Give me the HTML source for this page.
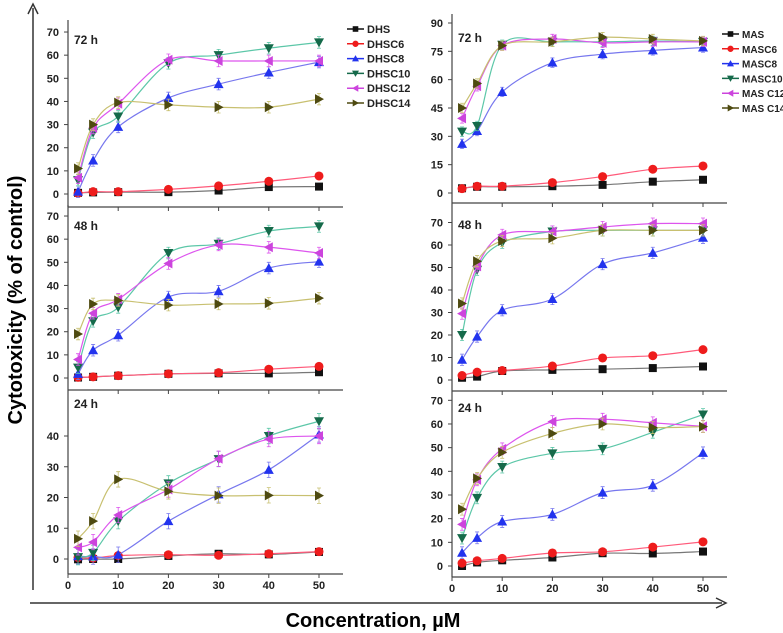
<!DOCTYPE html>
<html><head><meta charset="utf-8"><style>
body{margin:0;background:#fff;}
svg{display:block;font-family:"Liberation Sans",Arial,sans-serif;}
</style></head><body>
<svg id="chart" width="783" height="633" viewBox="0 0 783 633" xmlns="http://www.w3.org/2000/svg">
<g>
<line x1="33" y1="590" x2="33" y2="8" stroke="#333" stroke-width="1.5"/>
<path d="M28,14 L33,4 L38,14" fill="none" stroke="#333" stroke-width="1.5"/>
<line x1="30" y1="603" x2="722" y2="603" stroke="#333" stroke-width="1.5"/>
<path d="M716,598 L726,603 L716,608" fill="none" stroke="#333" stroke-width="1.5"/>
<text transform="translate(22,300) rotate(-90)" text-anchor="middle" font-size="20" font-weight="bold">Cytotoxicity (% of control)</text>
<text x="373" y="627" text-anchor="middle" font-size="20" font-weight="bold">Concentration, µM</text>
</g>
<g id="panels"></g>
</svg>
<script>
const xVals=[2,5,10,20,30,40,50];
const leftNames=["DHS","DHSC6","DHSC8","DHSC10","DHSC12","DHSC14"];
const rightNames=["MAS","MASC6","MASC8","MASC10","MAS C12","MAS C14"];
const L72=[[0.5,0.7,0.8,0.8,1.5,3,3.2],[0.3,1,1,2,3.5,5.5,7.8],[1,14.5,29,41.5,47.5,52.5,57],[6,26.5,33.5,56.5,60,63,65.5],[7,28.5,39,58,57.5,57.5,57.5],[11,30,39.5,38.5,37.5,37.5,41]];
const L48=[[0.2,0.5,1,1.8,2,2,2.5],[0.3,0.5,1,1.8,2.3,3.8,5],[1.8,12,18.5,35,37.5,47.5,50.3],[4.5,24.5,30.5,54,58,63.5,65.5],[8,28,34,49.5,57.5,56.5,54],[19,32,33.5,31.5,32,32.3,34.5]];
const L24=[[-0.1,0,0,1,1.7,1.5,2.3],[0.5,0.3,1.1,1.4,1.2,1.7,2.4],[0.9,0.8,1.4,12.3,21,29,40.5],[0.6,2,12.3,24.6,32.5,40,44.8],[3.8,5.5,14.3,22.6,32.6,39,40],[6.6,12.3,25.9,22,20.6,20.7,20.6]];
const R72=[[2.5,3.3,3.3,3.6,4.3,6,7],[2.3,3.6,3.6,5.5,8.7,12.6,14.3],[26,32.8,53.5,69,73.5,75.5,77],[32.5,35.5,78.5,80,80,80.5,80],[39.5,56.5,78,81.5,79.5,80,80],[45,58,78,80,82.5,81.5,80.5]];
const R48=[[1,1.5,4,4.5,4.8,5.3,6],[2,3.5,4.2,6.2,9.8,10.8,13.5],[9,19.3,31,36,51.5,56.5,63.2],[20,49,61,66,66.5,66.5,66.5],[29.5,50.5,64.5,66,68,69.5,69.5],[34,52.8,61.8,63,66.5,66.5,66.5]];
const R24=[[0,1.5,2.4,3.6,5.4,5.3,6.1],[1.2,2.2,3.2,5.5,6,8,10.2],[5.6,11.9,18.8,21.8,31,34.1,47.8],[11.8,28.8,41.8,47.6,49.5,56.5,64],[17.6,36.4,49.5,61,62,60.5,59],[24,37,48,56,60,58.5,58.9]];
const leftTicks72=[0,10,20,30,40,50,60,70], leftTicks48=[0,10,20,30,40,50,60,70], leftTicks24=[0,10,20,30,40];
const rightTicks72=[0,15,30,45,60,75,90], rightTicks48=[0,10,20,30,40,50,60,70], rightTicks24=[0,10,20,30,40,50,60,70];
const xTicks=[0,10,20,30,40,50];
const markColors=["#111","#ee1c1c","#2233ee","#156a4a","#cc44dd","#4e4a10"];
const lineColors=["#777","#ff5a7a","#7777ee","#5cc7a8","#dd55ee","#c8c070"];
const shapes=["sq","ci","tu","td","tl","tr"];
const NS="http://www.w3.org/2000/svg";
const root=document.getElementById("panels");
function mk(tag,attrs,parent){const e=document.createElementNS(NS,tag);for(const k in attrs)e.setAttribute(k,attrs[k]);parent.appendChild(e);return e;}
function panel(name,x0,top,bottom,y0,pxPer,data,yticks,label,labelY,showX){
  const g=mk("g",{},root);
  
  
  const sx=v=>x0+v*5.02, sy=v=>y0-v*pxPer;
  mk("line",{x1:x0,y1:top,x2:x0,y2:bottom,stroke:"#444","stroke-width":1.2},g);
  mk("line",{x1:x0,y1:bottom,x2:x0+275,y2:bottom,stroke:"#444","stroke-width":1.2},g);
  yticks.forEach(t=>{const y=sy(t);
    mk("line",{x1:x0-4,y1:y,x2:x0,y2:y,stroke:"#444"},g);
    const tx=mk("text",{x:x0-9,y:y+4,"text-anchor":"end","font-size":11,"font-weight":"bold",fill:"#222"},g);tx.textContent=t;
    
    });
  xTicks.forEach(t=>{const x=sx(t);
    mk("line",{x1:x,y1:bottom,x2:x,y2:bottom+4,stroke:"#444"},g);
    if(showX){const tx=mk("text",{x:x,y:bottom+15,"text-anchor":"middle","font-size":11,"font-weight":"bold",fill:"#222"},g);tx.textContent=t;
      
      }});
  const lt=mk("text",{x:x0+6,y:labelY,"font-size":12,"font-weight":"bold",fill:"#222"},g);lt.textContent=label;
  
  
  data.forEach((ser,si)=>{
    const pts=ser.map((v,i)=>[sx(xVals[i]),sy(v)]);
    let d="M"+pts[0][0]+","+pts[0][1];
    for(let i=0;i<pts.length-1;i++){const p0=pts[Math.max(i-1,0)],p1=pts[i],p2=pts[i+1],p3=pts[Math.min(i+2,pts.length-1)];
      d+=` C${p1[0]+(p2[0]-p0[0])/6},${p1[1]+(p2[1]-p0[1])/6} ${p2[0]-(p3[0]-p1[0])/6},${p2[1]-(p3[1]-p1[1])/6} ${p2[0]},${p2[1]}`;}
    const path=mk("path",{d:d,fill:"none",stroke:lineColors[si],"stroke-width":1.2},g);
    
    
    pts.forEach(p=>{
      if(si>=2){const e=pxPer*2.5;mk("path",{d:`M${p[0]},${p[1]-e}V${p[1]+e}M${p[0]-2},${p[1]-e}h4M${p[0]-2},${p[1]+e}h4`,stroke:lineColors[si],"stroke-width":0.8,fill:"none"},g);}
      const m=marker(shapes[si],p[0],p[1],markColors[si],g);
      
      
    });
  });
}
function marker(s,x,y,c,g){const r=5;let d;
  if(s==="sq")return mk("rect",{x:x-4,y:y-4,width:8,height:8,fill:c},g);
  if(s==="ci")return mk("circle",{cx:x,cy:y,r:4.5,fill:c},g);
  if(s==="tu")d=`M${x},${y-r}L${x+r},${y+r*0.8}L${x-r},${y+r*0.8}Z`;
  if(s==="td")d=`M${x},${y+r}L${x+r},${y-r*0.8}L${x-r},${y-r*0.8}Z`;
  if(s==="tl")d=`M${x-r},${y}L${x+r*0.8},${y-r}L${x+r*0.8},${y+r}Z`;
  if(s==="tr")d=`M${x+r},${y}L${x-r*0.8},${y-r}L${x-r*0.8},${y+r}Z`;
  return mk("path",{d:d,fill:c},g);}
function legend(x,ys,names,name,fs){const g=mk("g",{},root);
  
  
  names.forEach((n,i)=>{const y=ys+i*14.8;
    mk("line",{x1:x,y1:y,x2:x+17,y2:y,stroke:markColors[i],"stroke-width":1.5},g);
    const m=marker(shapes[i],x+8.5,y,markColors[i],g);m.setAttribute("transform",`translate(${x+8.5},${y}) scale(0.7) translate(${-(x+8.5)},${-y})`);
    const t=mk("text",{x:x+20,y:y+4,"font-size":fs,"font-weight":"bold",fill:"#222"},g);t.textContent=n;
    
    });}
panel("panel-dhs-72h",68,20,207,194,2.314,L72,leftTicks72,"72 h",44,false);
panel("panel-dhs-48h",68,205,390,378,2.314,L48,leftTicks48,"48 h",230,false);
panel("panel-dhs-24h",68,390,574,559,3.075,L24,leftTicks24,"24 h",408,true);
panel("panel-mas-72h",452,14,203,193,1.889,R72,rightTicks72,"72 h",42,false);
panel("panel-mas-48h",452,203,391,380,2.25,R48,rightTicks48,"48 h",229,false);
panel("panel-mas-24h",452,391,577,566,2.367,R24,rightTicks24,"24 h",412,true);
legend(347,29,leftNames,"legend-dhs",11);
legend(722,34,rightNames,"legend-mas",10);
</script>
</body></html>
